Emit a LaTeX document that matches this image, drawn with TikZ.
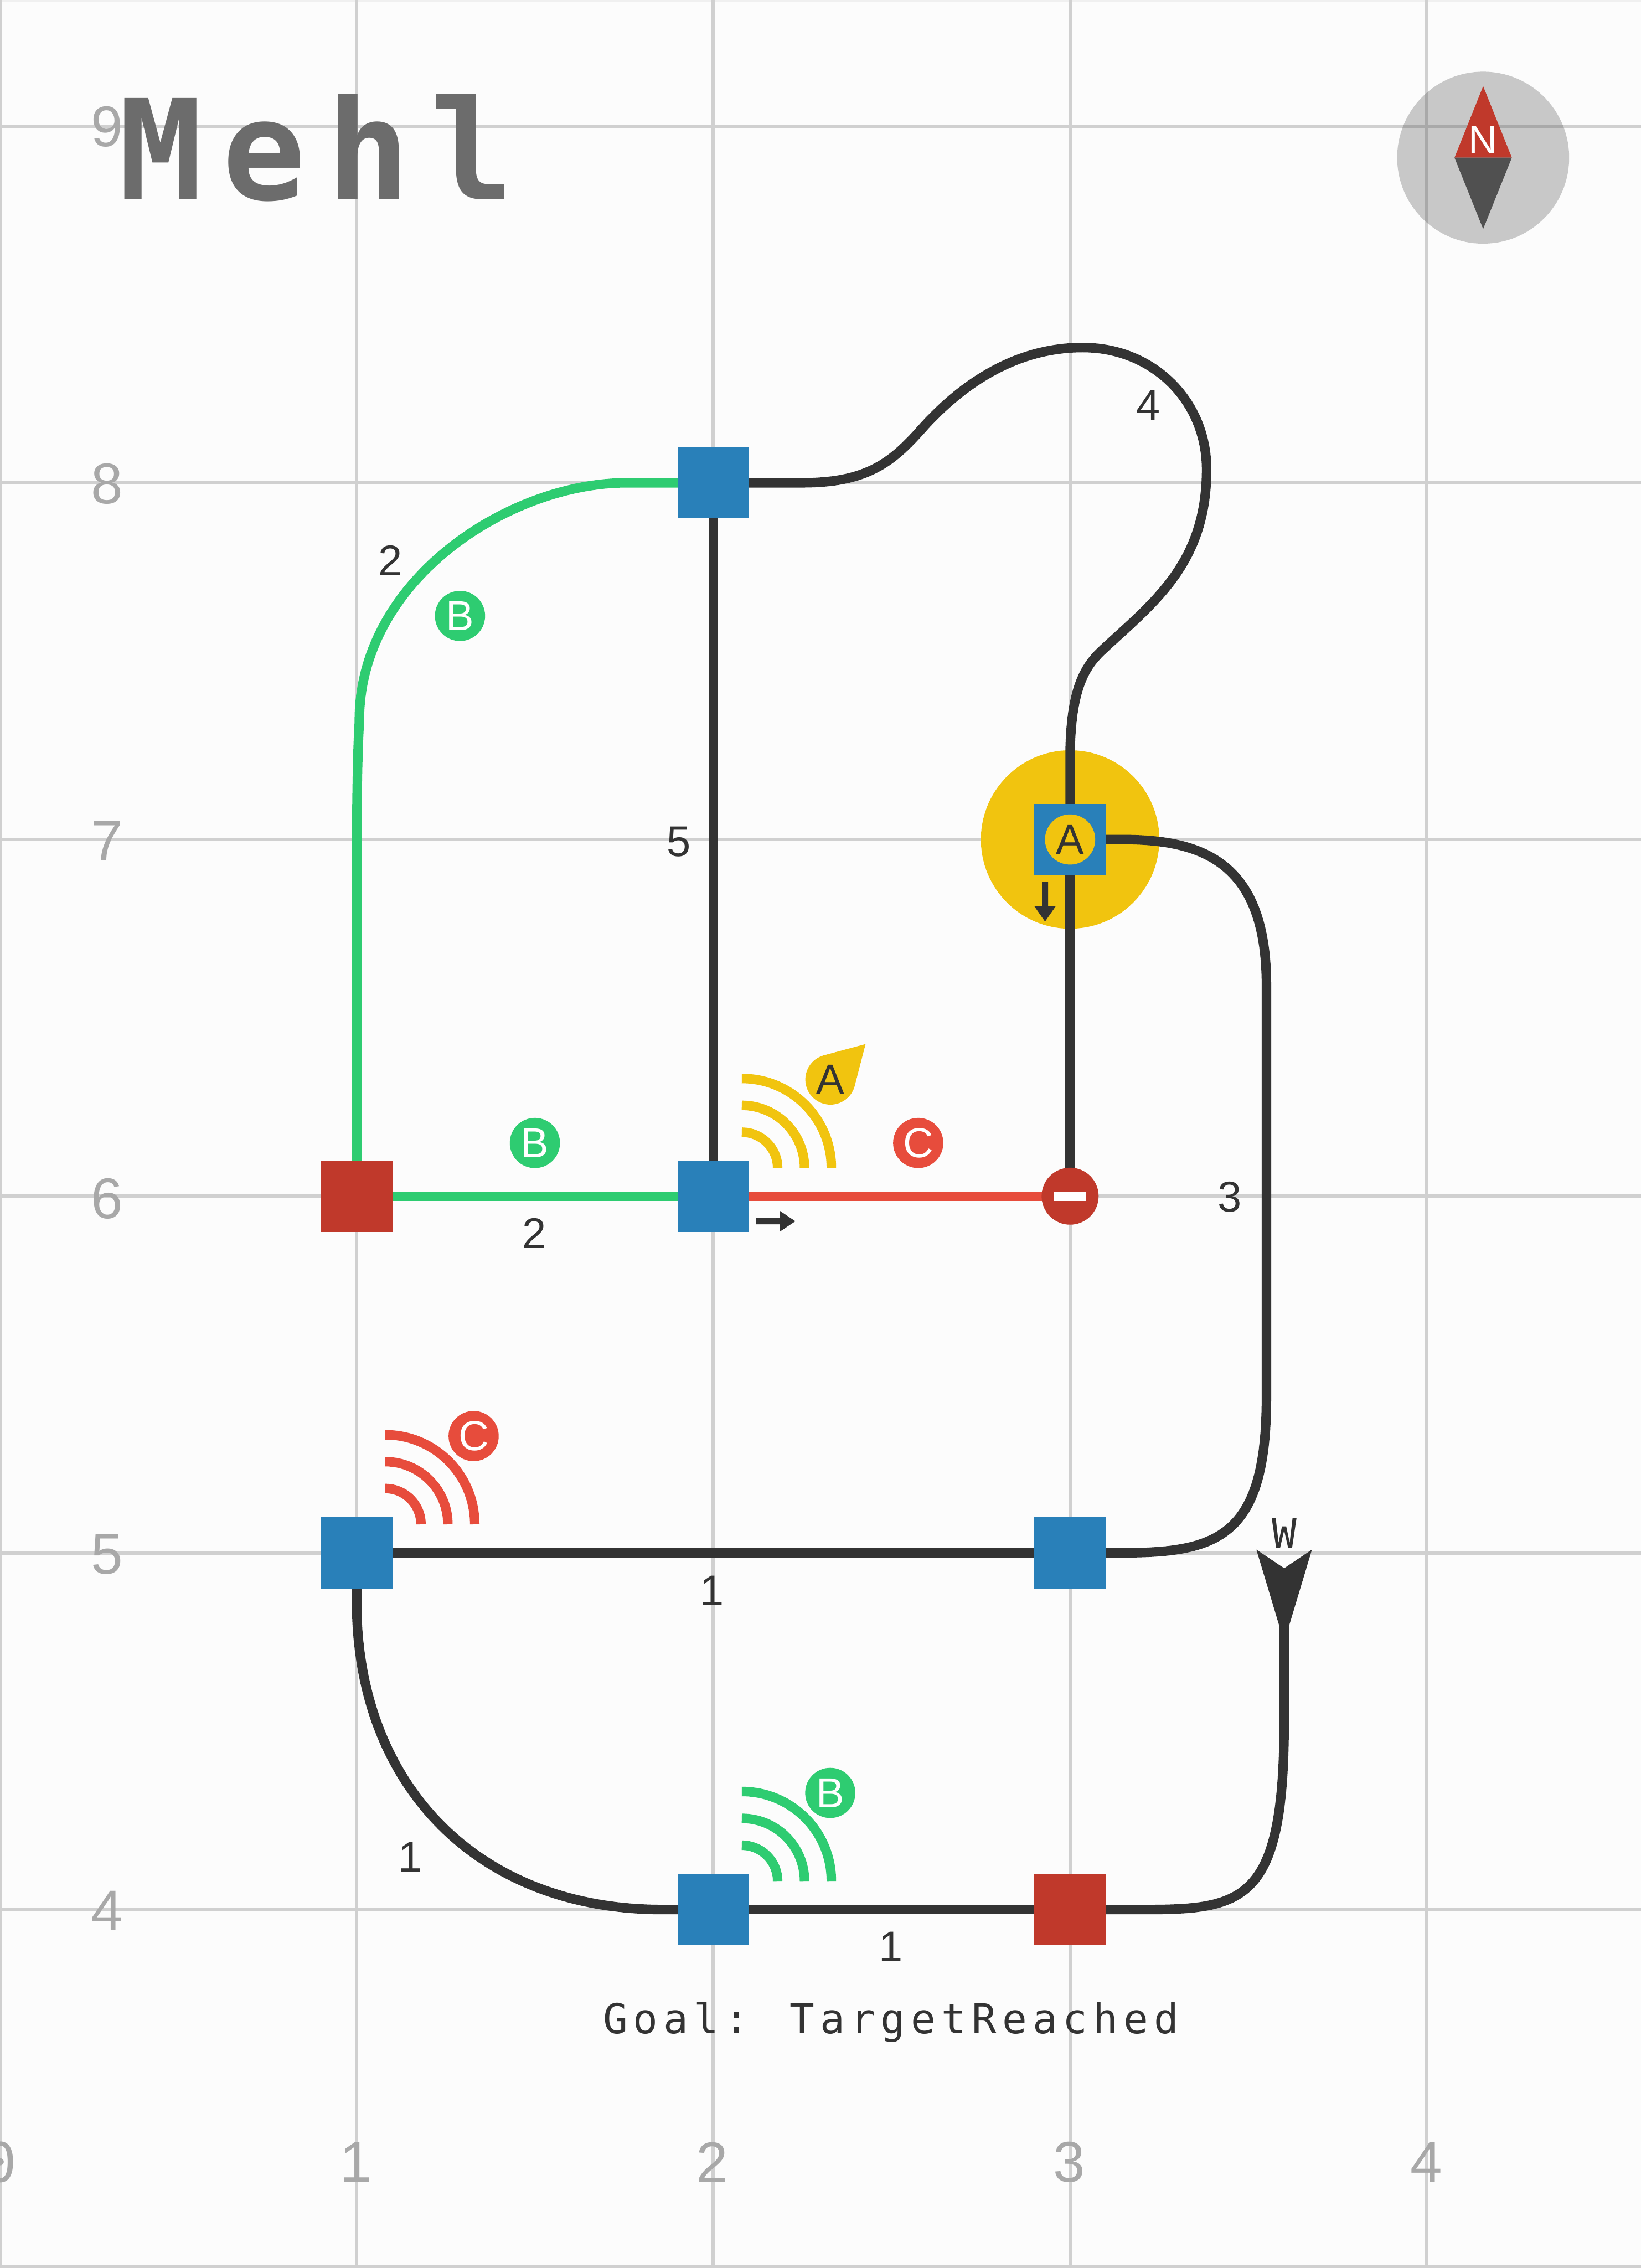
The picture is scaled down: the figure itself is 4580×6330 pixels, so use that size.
\documentclass[tikz,border=0pt]{standalone}
\usepackage{fontspec}
\setmainfont{Liberation Sans}
\newfontfamily\titlef[LetterSpace=14.4]{DejaVu Sans Mono}
\newfontfamily\goalf[LetterSpace=13.5]{DejaVu Sans Mono}
\newfontfamily\monof{DejaVu Sans Mono}
\definecolor{bgc}{HTML}{FCFCFC}
\definecolor{gridc}{HTML}{D0D0D0}
\definecolor{dark}{HTML}{333333}
\definecolor{bluec}{HTML}{2980B9}
\definecolor{redd}{HTML}{C0392B}
\definecolor{redl}{HTML}{E74C3C}
\definecolor{greenc}{HTML}{2ECC71}
\definecolor{yellowc}{HTML}{F1C40F}
\definecolor{labelc}{HTML}{A8A8A8}
\definecolor{titlec}{HTML}{6C6C6C}
\definecolor{needled}{HTML}{505050}
\definecolor{dialc}{HTML}{525252}
\pgfdeclarelayer{back}
\pgfdeclarelayer{edges}
\pgfsetlayers{back,edges,main}
\tikzset{
  gridline/.style={draw=gridc,line width=2.845pt},
  edgeline/.style={line width=7.54pt,line cap=butt},
  darkedge/.style={edgeline,draw=dark},
  sigarc/.style={line width=7.54pt,line cap=butt},
  sq/.style={rectangle,minimum size=1.99cm,inner sep=0pt,outer sep=0pt},
  bluesq/.style={sq,fill=bluec},
  redsq/.style={sq,fill=redd},
  badge/.style={circle,minimum size=1.4cm,inner sep=0pt,outer sep=0pt,font=\fontsize{33.3}{36}\selectfont},
  num/.style={inner sep=0pt,outer sep=0pt,text=dark,font=\fontsize{34.1}{38}\selectfont},
  axis/.style={inner sep=0pt,outer sep=0pt,text=labelc,font=\fontsize{45.5}{50}\selectfont},
}
\newcommand{\signalarcs}[3]{%
  \foreach \r in {100,175,250}{%
    \draw[sigarc,draw=#3] (#1,#2+\r) arc[start angle=90,end angle=0,radius=\r];
  }%
}
\begin{document}
\begin{tikzpicture}[x=0.01cm,y=0.01cm]
\useasboundingbox (0,0) rectangle (4580,-6330);
\begin{pgfonlayer}{back}
  \fill[bgc] (0,0) rectangle (4580,-6330);
  \fill[black!6] (0,0) rectangle (4580,-4);
  \foreach \x in {0,995.5,1991,2987,3982}{\draw[gridline] (\x,0) -- (\x,-6330);}
  \foreach \y in {352,1347.5,2343,3338.5,4334,5329.5,6325}{\draw[gridline] (0,-\y) -- (4580,-\y);}
  \fill[yellowc] (2987,-2343) circle[radius=249];
\end{pgfonlayer}

% axis labels
\node[axis] (ly9) at (299,-354) {9};
\node[axis] (ly8) at (299,-1351) {8};
\node[axis] (ly7) at (299,-2347) {7};
\node[axis] (ly6) at (299,-3345) {6};
\node[axis] (ly5) at (299,-4338) {5};
\node[axis] (ly4) at (299,-5333) {4};
\node[axis,font=\monof\fontsize{43}{50}\selectfont] (lx0) at (2,-6035) {0};
\node[axis] (lx1) at (994,-6035) {1};
\node[axis] (lx2) at (1988,-6035) {2};
\node[axis] (lx3) at (2984,-6035) {3};
\node[axis] (lx4) at (3982,-6035) {4};

% title
\node[anchor=base west,inner sep=0pt,text=titlec,font=\titlef\bfseries\fontsize{110.4}{120}\selectfont] (title) at (331,-557) {Mehl};

% compass
\fill[dialc,opacity=0.3] (4140,-440) circle[radius=240];
\fill[redd] (4140,-240.6) -- (4220,-440) -- (4060,-440) -- cycle;
\fill[needled] (4140,-639) -- (4220,-440) -- (4060,-440) -- cycle;
\node[anchor=base,inner sep=0pt,text=white,font=\fontsize{31.6}{34}\selectfont] (north) at (4140,-429.5) {N};

% stations
\node[bluesq] (s28) at (1991,-1347.5) {};
\node[bluesq] (s37) at (2987,-2343) {};
\node[redsq] (s16) at (995.5,-3338.5) {};
\node[bluesq] (s26) at (1991,-3338.5) {};
\node[circle,minimum size=1.59cm,inner sep=0pt,outer sep=0pt,fill=redd] (s36) at (2987,-3338.5) {};
\node[rectangle,minimum width=0.9cm,minimum height=0.255cm,inner sep=0pt,fill=white] (s36bar) at (s36.center) {};
\node[bluesq] (s15) at (995.5,-4334) {};
\node[bluesq] (s35) at (2987,-4334) {};
\node[bluesq] (s24) at (1991,-5329.5) {};
\node[redsq] (s34) at (2987,-5329.5) {};
\coordinate (windend) at (3584.5,-4538);

% connectors
\begin{pgfonlayer}{edges}
  \draw[edgeline,draw=greenc] (s28.center) -- (1750,-1347.5)
     .. controls (1420,-1347.5) and (1000,-1620) .. (1003,-2015)
     .. controls (999,-2080) and (995.5,-2200) .. (995.5,-2450) -- (s16.center);
  \draw[edgeline,draw=greenc] (s16.center) -- (s26.center);
  \draw[edgeline,draw=redl] (s26.center) -- (s36.center);
  \draw[darkedge] (s28.center) -- (s26.center);
  \draw[darkedge] (s37.center) -- (s36.center);
  \draw[darkedge] (s15.center) -- (s35.center);
  \draw[darkedge] (s24.center) -- (s34.center);
  \draw[darkedge] (s28.center) -- (2240,-1347.5)
     .. controls (2420,-1347.5) and (2490,-1290) .. (2572,-1198)
     .. controls (2680,-1077) and (2830,-970) .. (3022,-970)
     .. controls (3220,-970) and (3368,-1120) .. (3368,-1310)
     .. controls (3368,-1560) and (3235,-1670) .. (3098,-1795)
     .. controls (3050,-1840) and (2990,-1880) .. (2987,-2100) -- (s37.center);
  \draw[darkedge] (s37.center) -- (3130,-2343)
     .. controls (3350,-2343) and (3535,-2400) .. (3535,-2750)
     -- (3535,-3900)
     .. controls (3535,-4290) and (3400,-4334) .. (3130,-4334) -- (s35.center);
  \draw[darkedge] (s15.center) -- (995.5,-4470)
     .. controls (995.5,-4980) and (1330,-5329.5) .. (1850,-5329.5) -- (s24.center);
  \draw[darkedge] (s34.center) -- (3200,-5329.5)
     .. controls (3480,-5329.5) and (3584.5,-5300) .. (3584.5,-4800) -- (windend);
\end{pgfonlayer}

% wind arrow
\fill[dark] (3507,-4325) -- (3584.5,-4377) -- (3662,-4325) -- (3598,-4538) -- (3571,-4538) -- cycle;
\node[anchor=base,inner sep=0pt,text=dark,font=\monof\fontsize{32.7}{36}\selectfont] (windlabel) at (3584.5,-4322) {W};

% signal arcs
\signalarcs{2070.6}{-3260}{yellowc}
\signalarcs{1075.1}{-4254.4}{redl}
\signalarcs{2070.6}{-5250}{greenc}

% agent badges
\node[badge,fill=yellowc,text=dark] (agentA) at (2987,-2343) {A};
\node[badge,fill=greenc,text=white] (beaconB1) at (1284,-1719) {B};
\node[badge,fill=greenc,text=white] (beaconB2) at (1493,-3190) {B};
\node[badge,fill=redl,text=white] (beaconC1) at (2563,-3190) {C};
\node[badge,fill=redl,text=white] (beaconC2) at (1322,-4008) {C};
\node[badge,fill=greenc,text=white] (beaconB3) at (2317.5,-5004) {B};
\fill[yellowc] (2318,-3013) ++(104.8:70) arc[start angle=104.8,end angle=345.2,radius=70] -- (2416,-2914) -- cycle;
\node[inner sep=0pt,outer sep=0pt,text=dark,font=\fontsize{33.3}{36}\selectfont] (pinA) at (2318,-3013) {A};

% direction arrows
\fill[dark] (2110,-3400) -- (2176,-3400) -- (2176,-3379) -- (2220,-3408.5) -- (2176,-3438) -- (2176,-3417) -- (2110,-3417) -- cycle;
\fill[dark] (2908.5,-2462) -- (2925.5,-2462) -- (2925.5,-2529) -- (2947,-2529) -- (2917,-2572) -- (2887,-2529) -- (2908.5,-2529) -- cycle;

% edge weights
\node[num] (w1) at (1089,-1564) {2};
\node[num] (w2) at (3206,-1131) {4};
\node[num] (w3) at (1895,-2349) {5};
\node[num] (w4) at (1492,-3442) {2};
\node[num] (w5) at (3432,-3341) {3};
\node[num] (w6) at (1987,-4439) {1};
\node[num] (w7) at (2486,-5433) {1};
\node[num] (w8) at (1146,-5183) {1};

% goal
\node[anchor=base,inner sep=0pt,text=dark,font=\goalf\fontsize{32.7}{36}\selectfont] (goal) at (2487,-5675) {Goal: TargetReached};
\end{tikzpicture}
\end{document}
